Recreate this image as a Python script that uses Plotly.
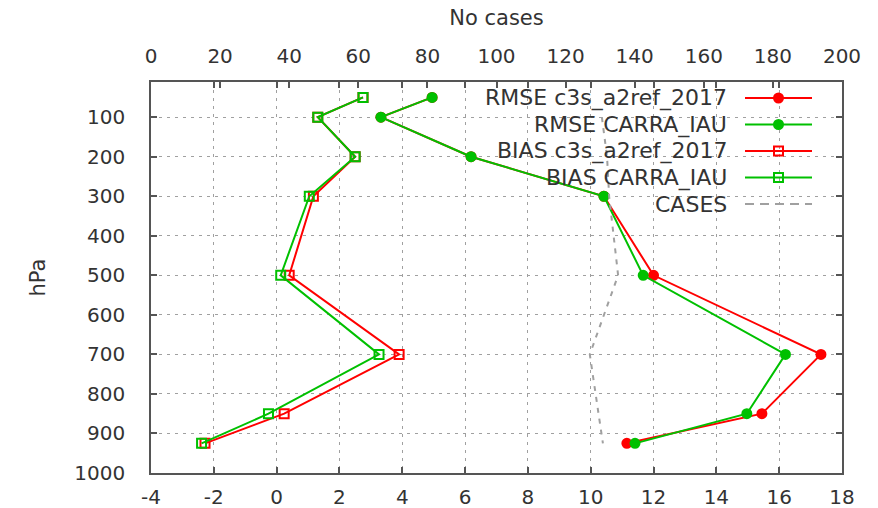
import plotly.graph_objects as go

# ---------------- data ----------------
levels = [50, 100, 200, 300, 500, 700, 850, 925]
rmse_c3s = [4.95, 3.32, 6.19, 10.42, 12.0, 17.33, 15.45, 11.15]
rmse_carra = [4.95, 3.32, 6.19, 10.42, 11.67, 16.2, 14.97, 11.41]
bias_c3s = [2.75, 1.31, 2.5, 1.17, 0.4, 3.9, 0.24, -2.28]
bias_carra = [2.75, 1.31, 2.5, 1.04, 0.13, 3.26, -0.26, -2.39]
case_levels = [100, 200, 300, 500, 700, 850, 925]
cases = [130.5, 132.0, 132.6, 135.2, 127.0, 129.4, 130.8]

x_ticks = [-4, -2, 0, 2, 4, 6, 8, 10, 12, 14, 16, 18]
x_tick_labels = ["-4", "-2", "0", "2", "4", "6", "8", "10", "12", "14", "16", "18"]
y_ticks = [100, 200, 300, 400, 500, 600, 700, 800, 900, 1000]
legend_names = ["RMSE c3s_a2ref_2017", "RMSE CARRA_IAU", "BIAS c3s_a2ref_2017",
                "BIAS CARRA_IAU", "CASES"]

RED = "#ff0000"
GREEN = "#00c000"
GRAY = "#a0a0a0"
FONT = "DejaVu Sans"
TXT = "#333333"
FRAME = "#555555"

styles = [
    dict(color=RED, symbol="circle", size=9),
    dict(color=GREEN, symbol="circle", size=9),
    dict(color=RED, symbol="square-open", size=9),
    dict(color=GREEN, symbol="square-open", size=9),
]

fig = go.Figure()
series = [rmse_c3s, rmse_carra, bias_c3s, bias_carra]
for name, vals, st in zip(legend_names, series, styles):
    fig.add_trace(go.Scatter(
        x=vals, y=levels, mode="lines+markers", name=name, showlegend=False,
        line=dict(color=st["color"], width=2),
        marker=dict(symbol=st["symbol"], size=st["size"], color=st["color"],
                    line=dict(color=st["color"], width=2)),
    ))

fig.add_trace(go.Scatter(
    x=cases, y=case_levels, mode="lines", name="CASES", showlegend=False,
    xaxis="x2", yaxis="y",
    line=dict(color=GRAY, width=2, dash="5px,6px"),
))

# ---------------- custom legend (text left, sample right) ----------------
row_y0, row_dy = 98, 26.5
for i, name in enumerate(legend_names):
    yy = row_y0 + i * row_dy
    fig.add_annotation(x=729, y=yy, xref="x3", yref="y3", text=name,
                       showarrow=False, xanchor="right", yanchor="middle",
                       font=dict(family=FONT, size=22, color=TXT))
    if i < 4:
        st = styles[i]
        fig.add_trace(go.Scatter(
            x=[745, 778.5, 812], y=[yy, yy, yy], xaxis="x3", yaxis="y3",
            mode="lines", showlegend=False, hoverinfo="skip",
            line=dict(color=st["color"], width=2)))
        fig.add_trace(go.Scatter(
            x=[778.5], y=[yy], xaxis="x3", yaxis="y3",
            mode="markers", showlegend=False, hoverinfo="skip",
            marker=dict(symbol=st["symbol"], size=st["size"], color=st["color"],
                        line=dict(color=st["color"], width=2))))
    else:
        fig.add_trace(go.Scatter(
            x=[745, 812], y=[yy, yy], xaxis="x3", yaxis="y3",
            mode="lines", showlegend=False, hoverinfo="skip",
            line=dict(color=GRAY, width=2, dash="9px,6px")))

axis_common = dict(showline=True, linecolor=FRAME, linewidth=1.5,
                   ticks="inside", ticklen=6, tickcolor=FRAME, tickwidth=1.5,
                   zeroline=False, automargin=False,
                   tickfont=dict(family=FONT, size=20, color=TXT))

fig.update_layout(
    width=878, height=508,
    margin=dict(l=151, r=36, t=82, b=35, autoexpand=False),
    plot_bgcolor="white", paper_bgcolor="white",
    xaxis=dict(range=[-4, 18], tickvals=x_ticks, ticktext=x_tick_labels,
               mirror="ticks",
               showgrid=True, gridcolor=GRAY, griddash="3px,5px", gridwidth=1,
               ticklabelstandoff=5, **axis_common),
    xaxis2=dict(range=[0, 200], dtick=20, tick0=0, overlaying="x", side="top",
                showgrid=False, anchor="y", ticklabelstandoff=9,
                title=dict(text="No cases", font=dict(family=FONT, size=21, color=TXT),
                           standoff=13),
                **axis_common),
    yaxis=dict(range=[1000, 11], tickvals=y_ticks, mirror="ticks",
               showgrid=True, gridcolor=GRAY, griddash="3px,5px", gridwidth=1,
               ticklabelstandoff=20,
               title=dict(text="hPa", font=dict(family=FONT, size=21, color=TXT),
                          standoff=23),
               **axis_common),
    xaxis3=dict(range=[151, 842], overlaying="x", visible=False, anchor="y3"),
    yaxis3=dict(range=[473, 82], overlaying="y", visible=False, anchor="x3"),
    shapes=[dict(type="rect", xref="paper", yref="paper", x0=0.4255, x1=1,
                 y0=0.66, y1=1, fillcolor="white", line=dict(width=0),
                 layer="between")],
)

fig.write_html("out.html")
